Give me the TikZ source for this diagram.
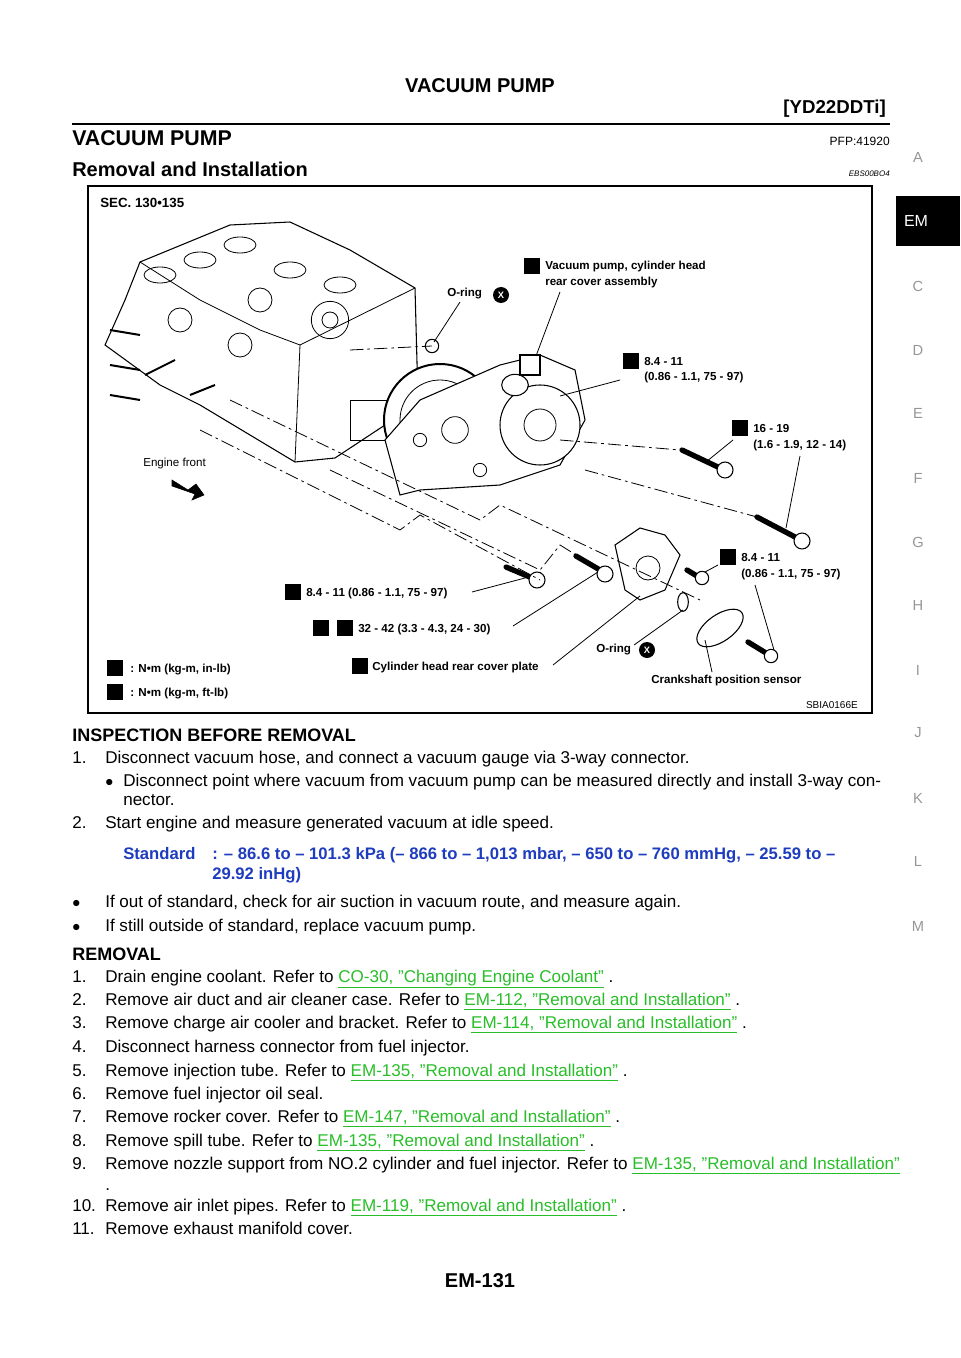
\documentclass[tikz,border=0pt]{standalone}
\usepackage{fontspec}
\setmainfont{Liberation Sans}
\usetikzlibrary{shapes.geometric}
\definecolor{lnk}{RGB}{40,190,40}
\definecolor{stdc}{RGB}{30,60,190}
\definecolor{tabg}{RGB}{150,150,150}
\begin{document}
\begin{tikzpicture}[x=0.75pt,y=-0.75pt,
  body/.style={anchor=base west,inner sep=0,font=\fontsize{12.8}{14}\selectfont},
  head/.style={anchor=base west,inner sep=0,font=\bfseries\fontsize{13.5}{15}\selectfont},
  lbl/.style={anchor=base west,inner sep=0,font=\bfseries\fontsize{8.7}{9}\selectfont},
  link/.style={text=lnk},
  tab/.style={inner sep=0,text=tabg,font=\fontsize{11}{12}\selectfont},
  icon/.style={draw,fill=black,minimum size=11pt,inner sep=0},
  oring/.style={circle,fill=black,minimum size=12pt,inner sep=0},
  leader/.style={line width=0.6pt},
  part/.style={draw,line width=0.8pt,fill=white},
  cl/.style={line width=0.6pt,dash pattern=on 10pt off 3pt on 2pt off 3pt},
  bolt/.style={line width=4pt,line cap=round}]
\useasboundingbox (0,0) rectangle (960,1358);
% header
\node[inner sep=0,font=\bfseries\fontsize{15}{17}\selectfont] (t1) at (480,86) {VACUUM PUMP};
\node[anchor=base east,inner sep=0,font=\bfseries\fontsize{14}{16}\selectfont] (t2) at (886,114) {[YD22DDTi]};
\draw[line width=1.6pt] (72,124) -- (890,124);
\node[anchor=base west,inner sep=0,font=\bfseries\fontsize{16}{18}\selectfont] (t3) at (72,146) {VACUUM PUMP};
\node[anchor=base east,inner sep=0,font=\fontsize{9}{10}\selectfont] (t4) at (890,146) {PFP:41920};
\node[anchor=base west,inner sep=0,font=\bfseries\fontsize{15}{17}\selectfont] (t5) at (72,177) {Removal and Installation};
\node[anchor=base east,inner sep=0,font=\itshape\fontsize{6}{7}\selectfont] (t6) at (890,177) {EBS00BO4};
% side tabs
\fill (896,196) rectangle (960,246);
\node[inner sep=0,text=white,font=\fontsize{12}{13}\selectfont] (em) at (916,221) {EM};
\foreach \l/\y in {A/157,C/286,D/350,E/413,F/478,G/542,H/605,I/670,J/733,K/798,L/861,M/926}
  \node[tab] (tab\l) at (918,\y) {\l};
% figure frame
\draw[line width=0.8pt] (88,186) rectangle (872,713);
\node[anchor=base west,inner sep=0,font=\bfseries\fontsize{10}{11}\selectfont] (sec) at (100,208) {SEC. 130•135};
\node[anchor=base east,inner sep=0,font=\fontsize{7.5}{8}\selectfont] (sb) at (858,708) {SBIA0166E};
% engine head drawing (approximation)
\draw[part] (105,345) -- (125,300) -- (140,262) -- (230,225) -- (290,222) -- (350,250) -- (415,288) -- (418,400) -- (385,425) -- (335,458) -- (295,462) -- (250,435) -- (200,405) -- (160,385) -- cycle;
\draw[line width=0.6pt] (140,262) -- (200,300) -- (260,330) -- (300,345) -- (415,288);
\draw[line width=0.6pt] (300,345) -- (295,462);
\foreach \x/\y in {160/275,200/260,240/245,290/270,340/285}
  {\draw[line width=0.6pt] (\x,\y) ellipse (12pt and 6pt);}
\foreach \x/\y in {180/320,240/345,260/300}
  {\draw[line width=0.6pt] (\x,\y) circle (9pt);}
\draw[line width=0.6pt] (330,320) circle (14pt) (330,320) circle (6pt);
\draw[line width=0.6pt] (350,400) rectangle (395,440);
\foreach \y in {330,365,395} {\draw[line width=1.5pt] (110,\y) -- (140,\y+5);}
\draw[line width=1.5pt] (145,375) -- (175,360) (190,395) -- (215,385);
% gear
\draw[part,line width=1.5pt] (440,420) circle (42pt);
\draw[line width=0.6pt] (440,420) circle (30pt);
% pump assembly
\draw[part] (385,440) -- (420,400) -- (500,365) -- (540,355) -- (575,370) -- (585,420) -- (560,465) -- (500,485) -- (420,490) -- (400,495) -- cycle;
\draw[part] (540,425) circle (30pt);
\draw[line width=0.6pt] (540,425) circle (12pt);
\draw[part] (515,385) ellipse (10pt and 8pt);
\draw[part] (520,355) rectangle (540,375);
\draw[line width=0.6pt] (455,430) circle (10pt) (420,440) circle (5pt) (480,470) circle (5pt);
% cover plate
\draw[part] (615,545) -- (640,528) -- (665,535) -- (680,555) -- (665,590) -- (640,600) -- (625,590) -- cycle;
\draw[line width=0.6pt] (648,568) circle (9pt);
% sensor
\draw[part,rotate around={35:(720,628)}] (720,628) ellipse (20pt and 10pt);
\draw[part] (683,602) ellipse (4pt and 7pt);
\draw[part] (432,346) circle (5pt);
% bolts
\draw[bolt] (682,450) -- (720,468);
\draw[part] (725,470) circle (6pt);
\draw[bolt] (757,517) -- (797,538);
\draw[part] (802,541) circle (6pt);
\draw[bolt] (506,567) -- (532,578);
\draw[part] (537,580) circle (6pt);
\draw[bolt] (576,556) -- (600,570);
\draw[part] (605,574) circle (6pt);
\draw[bolt] (687,570) -- (697,576);
\draw[part] (702,578) circle (5pt);
\draw[bolt] (748,642) -- (766,653);
\draw[part] (771,656) circle (5pt);
% centre lines
\draw[cl] (230,400) -- (480,520) -- (500,505) -- (700,600);
\draw[cl] (200,430) -- (400,530) -- (420,515) -- (540,580);
\draw[cl] (330,470) -- (540,570) -- (560,545) -- (600,570);
\draw[cl] (350,350) -- (432,346);
\draw[cl] (560,440) -- (680,450);
\draw[cl] (585,470) -- (757,517);
% engine front arrow
\node[anchor=base west,inner sep=0,font=\fontsize{8.7}{9}\selectfont] (ef) at (143,466) {Engine front};
\draw[fill=black] (172,480) -- (188,490) -- (196,484) -- (204,495) -- (192,500) -- (195,494) -- (172,486) -- cycle;
% labels
\node[icon] (i1) at (532,266) {};
\node[lbl] (l1) at (545,270) {Vacuum pump, cylinder head};
\node[lbl] (l1b) at (545,286) {rear cover assembly};
\node[lbl] (l2) at (447,297) {O-ring};
\node[oring] (o1) at (501,295) {\textcolor{white}{\bfseries\scriptsize X}};
\node[icon] (i3) at (631,361) {};
\node[lbl] (l3) at (644,365) {8.4 - 11};
\node[lbl] (l3b) at (644,381) {(0.86 - 1.1, 75 - 97)};
\node[icon] (i4) at (740,428) {};
\node[lbl] (l4) at (753,432) {16 - 19};
\node[lbl] (l4b) at (753,448) {(1.6 - 1.9, 12 - 14)};
\node[icon] (i5) at (728,557) {};
\node[lbl] (l5) at (741,561) {8.4 - 11};
\node[lbl] (l5b) at (741,577) {(0.86 - 1.1, 75 - 97)};
\node[icon] (i6) at (293,592) {};
\node[lbl] (l6) at (306,596) {8.4 - 11 (0.86 - 1.1, 75 - 97)};
\node[icon] (i7a) at (321,628) {};
\node[icon] (i7) at (345,628) {};
\node[lbl] (l7) at (358,632) {32 - 42 (3.3 - 4.3, 24 - 30)};
\node[lbl] (l8) at (596,652) {O-ring};
\node[oring] (o2) at (647,650) {\textcolor{white}{\bfseries\scriptsize X}};
\node[icon] (i9) at (360,666) {};
\node[lbl] (l9) at (372,670) {Cylinder head rear cover plate};
\node[lbl] (l10) at (651,683) {Crankshaft position sensor};
\node[icon] (i11) at (115,668) {};
\node[lbl] (l11) at (130,672) {: N•m (kg-m, in-lb)};
\node[icon] (i12) at (115,692) {};
\node[lbl] (l12) at (130,696) {: N•m (kg-m, ft-lb)};
% leaders
\draw[leader] (460,302) -- (434,342);
\draw[leader] (560,292) -- (536,356);
\draw[leader] (620,380) -- (560,396);
\draw[leader] (733,440) -- (706,462);
\draw[leader] (800,456) -- (786,528);
\draw[leader] (718,565) -- (705,572);
\draw[leader] (755,585) -- (774,650);
\draw[leader] (472,592) -- (525,578);
\draw[leader] (513,626) -- (598,572);
\draw[leader] (634,645) -- (683,610);
\draw[leader] (553,665) -- (640,596);
\draw[leader] (712,672) -- (705,640);
% text body
\node[head] (h1) at (72,741) {INSPECTION BEFORE REMOVAL};
\node[body] (a1) at (72,763) {1.};
\node[body] (a1t) at (105,763) {Disconnect vacuum hose, and connect a vacuum gauge via 3-way connector.};
\node[body] (b1) at (105,786) {$\bullet$};
\node[body] (b1t) at (123,786) {Disconnect point where vacuum from vacuum pump can be measured directly and install 3-way con-};
\node[body] (b1u) at (123,805) {nector.};
\node[body] (a2) at (72,828) {2.};
\node[body] (a2t) at (105,828) {Start engine and measure generated vacuum at idle speed.};
\node[body,text=stdc,font=\bfseries\fontsize{12.5}{14}\selectfont] (st) at (123,859) {Standard};
\node[body,text=stdc,font=\bfseries\fontsize{12.5}{14}\selectfont] (stv) at (212,859) {: – 86.6 to – 101.3 kPa (– 866 to – 1,013 mbar, – 650 to – 760 mmHg, – 25.59 to –};
\node[body,text=stdc,font=\bfseries\fontsize{12.5}{14}\selectfont] (stw) at (212,879) {29.92 inHg)};
\node[body] (b2) at (72,907) {$\bullet$};
\node[body] (b2t) at (105,907) {If out of standard, check for air suction in vacuum route, and measure again.};
\node[body] (b3) at (72,931) {$\bullet$};
\node[body] (b3t) at (105,931) {If still outside of standard, replace vacuum pump.};
\node[head] (h2) at (72,960) {REMOVAL};
\node[body] (r1) at (72,982) {1.};
\node[body] (r1t) at (105,982) {Drain engine coolant. Refer to \textcolor{lnk}{\underline{CO-30, "Changing Engine Coolant"}} .};
\node[body] (r2) at (72,1005) {2.};
\node[body] (r2t) at (105,1005) {Remove air duct and air cleaner case. Refer to \textcolor{lnk}{\underline{EM-112, "Removal and Installation"}} .};
\node[body] (r3) at (72,1028) {3.};
\node[body] (r3t) at (105,1028) {Remove charge air cooler and bracket. Refer to \textcolor{lnk}{\underline{EM-114, "Removal and Installation"}} .};
\node[body] (r4) at (72,1052) {4.};
\node[body] (r4t) at (105,1052) {Disconnect harness connector from fuel injector.};
\node[body] (r5) at (72,1076) {5.};
\node[body] (r5t) at (105,1076) {Remove injection tube. Refer to \textcolor{lnk}{\underline{EM-135, "Removal and Installation"}} .};
\node[body] (r6) at (72,1099) {6.};
\node[body] (r6t) at (105,1099) {Remove fuel injector oil seal.};
\node[body] (r7) at (72,1122) {7.};
\node[body] (r7t) at (105,1122) {Remove rocker cover. Refer to \textcolor{lnk}{\underline{EM-147, "Removal and Installation"}} .};
\node[body] (r8) at (72,1146) {8.};
\node[body] (r8t) at (105,1146) {Remove spill tube. Refer to \textcolor{lnk}{\underline{EM-135, "Removal and Installation"}} .};
\node[body] (r9) at (72,1169) {9.};
\node[body] (r9t) at (105,1169) {Remove nozzle support from NO.2 cylinder and fuel injector. Refer to \textcolor{lnk}{\underline{EM-135, "Removal and Installation"}}};
\node[body] (r9u) at (105,1190) {.};
\node[body] (r10) at (72,1211) {10.};
\node[body] (r10t) at (105,1211) {Remove air inlet pipes. Refer to \textcolor{lnk}{\underline{EM-119, "Removal and Installation"}} .};
\node[body] (r11) at (72,1234) {11.};
\node[body] (r11t) at (105,1234) {Remove exhaust manifold cover.};
\node[inner sep=0,font=\bfseries\fontsize{15}{17}\selectfont] (pg) at (480,1281) {EM-131};
\end{tikzpicture}
\end{document}
